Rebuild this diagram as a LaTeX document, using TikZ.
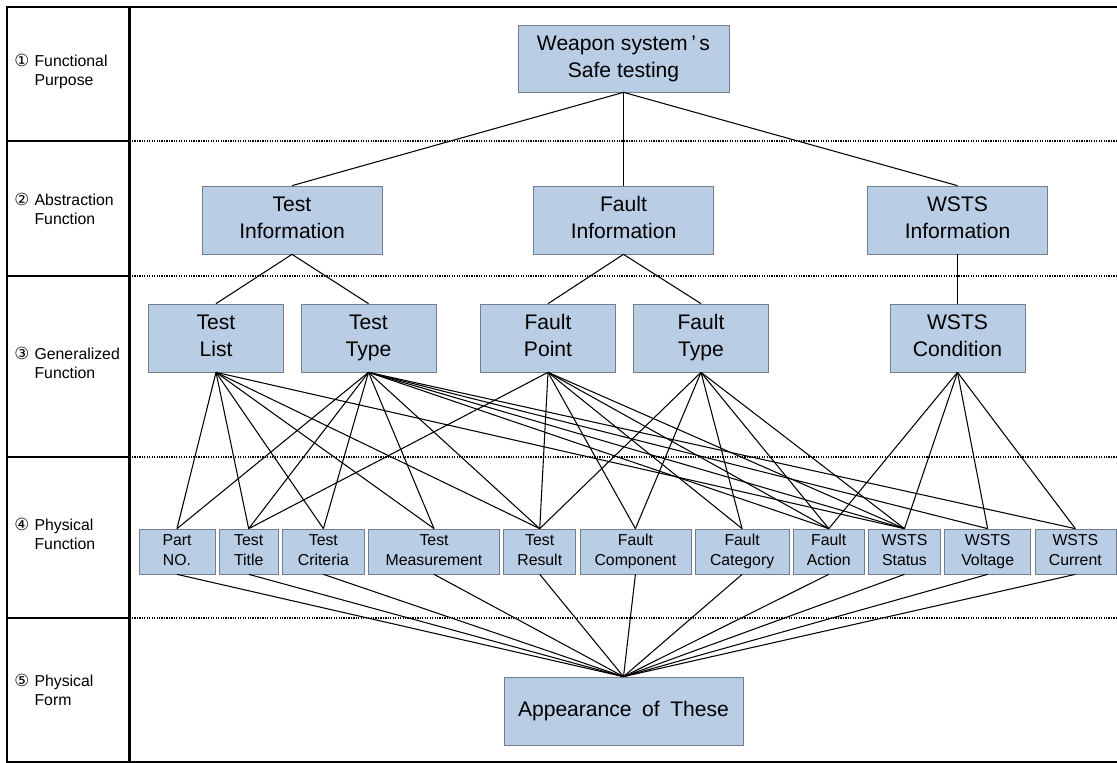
\documentclass[tikz,border=0pt]{standalone}
\usepackage{fontspec}
\setmainfont{Liberation Sans}
\newfontfamily\symfont{DejaVu Sans}
\usetikzlibrary{positioning}
\definecolor{boxblue}{RGB}{185,205,229}
\definecolor{boxline}{RGB}{115,125,140}
\tikzset{box/.style = {draw=boxline,fill=boxblue,inner sep=0pt,minimum width=2.7cm,minimum height=1.36cm,align=center,font=\fontsize{12}{15.3}\selectfont}}
\tikzset{leaf/.style = {draw=boxline,fill=boxblue,inner sep=0pt,minimum height=0.9cm,align=center,font=\fontsize{9}{11.3}\selectfont}}
\tikzset{link/.style = {black,line width=0.6pt}}
\tikzset{lbl/.style = {anchor=west,inner sep=0pt,font=\fontsize{9}{10.8}\selectfont}}
\tikzset{rowline/.style = {line width=0.6pt,dash pattern=on 0.7pt off 0.7pt}}
\tikzset{frame/.style = {line width=1.2pt}}
\newcommand{\rowlabel}[3]{\begin{tabular}{@{}l@{\hspace{3pt}}l@{}}{\symfont\fontsize{9.5}{10.8}\selectfont #1}&#2\\&#3\end{tabular}}
\newcommand{\boxlines}[2]{\strut#1\\\strut#2}
\newcommand{\widespace}{\spaceskip=0.5em\relax}

\begin{document}
\begin{tikzpicture}[x=0.02cm,y=-0.02cm]
		\useasboundingbox (0,0) rectangle (1117,763);
		\draw[frame] (1117,7) -- (7,7) -- (7,762) -- (1117,762);
		\draw[frame] (129.5,7) -- (129.5,762);
		\foreach \y in {141,276,457,618} {
			\draw[frame] (7,\y) -- (129.5,\y);
			\draw[rowline] (129.5,\y) -- (1117,\y);
		}
		\node[lbl] (r1) at (14,72) {\rowlabel{①}{Functional}{Purpose}};
		\node[lbl] (r2) at (14,211) {\rowlabel{②}{Abstraction}{Function}};
		\node[lbl] (r3) at (14,365) {\rowlabel{③}{Generalized}{Function}};
		\node[lbl] (r4) at (14,536) {\rowlabel{④}{Physical}{Function}};
		\node[lbl] (r5) at (14,692) {\rowlabel{⑤}{Physical}{Form}};
		\node[box, minimum width=4.22cm, minimum height=1.34cm] (weapon) at (623.5,58.5) {\boxlines{Weapon system\,’\,s}{Safe testing}};
		\node[box, minimum width=3.6cm] (ti) at (292,220) {\boxlines{Test}{Information}};
		\node[box, minimum width=3.6cm] (fi) at (623.5,220) {\boxlines{Fault}{Information}};
		\node[box, minimum width=3.6cm] (wi) at (957.5,220) {\boxlines{WSTS}{Information}};
		\node[box] (tl) at (216,338) {\boxlines{Test}{List}};
		\node[box] (tt) at (368.5,338) {\boxlines{Test}{Type}};
		\node[box] (fp) at (548,338) {\boxlines{Fault}{Point}};
		\node[box] (ft) at (701,338) {\boxlines{Fault}{Type}};
		\node[box] (wc) at (957.5,338) {\boxlines{WSTS}{Condition}};
		\node[leaf, minimum width=1.52cm] (pn) at (177,551.5) {\boxlines{Part}{NO.}};
		\node[leaf, minimum width=1.18cm, right=0.07cm of pn] (tti) {\boxlines{Test}{Title}};
		\node[leaf, minimum width=1.64cm, right=0.07cm of tti] (tc) {\boxlines{Test}{Criteria}};
		\node[leaf, minimum width=2.62cm, right=0.07cm of tc] (tm) {\boxlines{Test}{Measurement}};
		\node[leaf, minimum width=1.44cm, right=0.07cm of tm] (tr) {\boxlines{Test}{Result}};
		\node[leaf, minimum width=2.22cm, right=0.07cm of tr] (fc) {\boxlines{Fault}{Component}};
		\node[leaf, minimum width=1.88cm, right=0.07cm of fc] (fcat) {\boxlines{Fault}{Category}};
		\node[leaf, minimum width=1.42cm, right=0.07cm of fcat] (fa) {\boxlines{Fault}{Action}};
		\node[leaf, minimum width=1.44cm, right=0.07cm of fa] (ws) {\boxlines{WSTS}{Status}};
		\node[leaf, minimum width=1.72cm, right=0.07cm of ws] (wv) {\boxlines{WSTS}{Voltage}};
		\node[leaf, minimum width=1.62cm, right=0.07cm of wv] (wcu) {\boxlines{WSTS}{Current}};
		\node[box, minimum width=4.78cm] (app) at (623.5,711) {\widespace Appearance of These};
		\path[link] (weapon.south) edge (ti.north) edge (fi.north) edge (wi.north);
		\path[link] (ti.south) edge (tl.north) edge (tt.north);
		\path[link] (fi.south) edge (fp.north) edge (ft.north);
		\path[link] (wi.south) edge (wc.north);
		\path[link] (tl.south) edge (pn.north) edge (tti.north) edge (tc.north) edge (tm.north) edge (tr.north) edge (ws.north);
		\path[link] (tt.south) edge (pn.north) edge (tti.north) edge (tc.north) edge (tm.north) edge (tr.north)
			edge (fa.north) edge (ws.north) edge (wv.north) edge (wcu.north);
		\path[link] (fp.south) edge (tti.north) edge (tr.north) edge (fc.north) edge (fcat.north) edge (fa.north) edge (ws.north);
		\path[link] (ft.south) edge (tr.north) edge (fc.north) edge (fcat.north) edge (fa.north) edge (ws.north);
		\path[link] (wc.south) edge (fa.north) edge (ws.north) edge (wv.north) edge (wcu.north);
		\path[link] (app.north) edge (pn.south) edge (tti.south) edge (tc.south) edge (tm.south) edge (tr.south) edge (fc.south)
			edge (fcat.south) edge (fa.south) edge (ws.south) edge (wv.south) edge (wcu.south);
	\end{tikzpicture}
\end{document}
